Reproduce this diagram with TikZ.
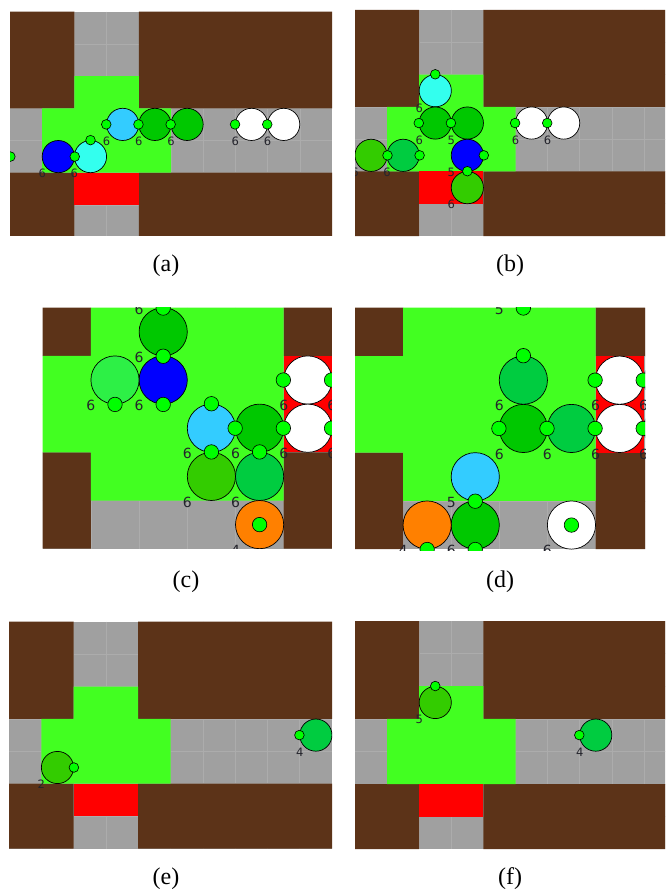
\documentclass[tikz,border=0pt]{standalone}
\usepackage{fontspec}
\setmainfont{Liberation Serif}
\newfontfamily\numfont{DejaVu Sans}
\usepackage{tikz}

\definecolor{wall}{RGB}{92,51,24}
\definecolor{floor}{RGB}{160,160,160}
\definecolor{seam}{RGB}{172,172,172}
\definecolor{zone}{RGB}{66,255,33}
\definecolor{exit}{RGB}{255,0,0}
\definecolor{heading}{RGB}{0,255,0}
\definecolor{numgray}{RGB}{36,36,44}
\definecolor{agblue}{RGB}{0,0,255}
\definecolor{agcyan}{RGB}{51,255,238}
\definecolor{agsky}{RGB}{51,204,255}
\definecolor{agdark}{RGB}{0,200,0}
\definecolor{agolive}{RGB}{51,204,0}
\definecolor{agmint}{RGB}{0,204,64}
\definecolor{aglime}{RGB}{45,240,70}
\definecolor{agorange}{RGB}{255,128,0}

% one cell of the map, and the size of the queue numbers
\newcommand{\cellsize}{32.2pt}
\newcommand{\numsize}{11.5}

\tikzset{
  agent/.style={circle, draw=black, line width=0.7pt, inner sep=0pt, minimum size=\cellsize},
  hdot/.style={circle, draw=black, line width=0.6pt, fill=heading, inner sep=0pt, minimum size=0.3*\cellsize},
  num/.style={font=\numfont\fontsize{\numsize}{\numsize}\selectfont, text=numgray, inner sep=0pt},
  subcap/.style={font=\fontsize{24}{28}\selectfont, inner sep=0pt},
  seams/.style={draw=seam, line width=0.6pt},
}

% 10 x 7 cells round the crossing
\newcommand{\crossing}{%
  \fill[floor] (0,0) rectangle (10,7);
  \foreach \i in {1,...,9} \draw[seams] (\i,0) -- (\i,7);
  \foreach \j in {1,...,6} \draw[seams] (0,\j) -- (10,\j);
  \fill[wall] (0,0) rectangle (2,3) (4,0) rectangle (10,3)
              (0,5) rectangle (2,7) (4,5) rectangle (10,7);
  \fill[zone] (2,2) rectangle (4,3) (1,3) rectangle (5,5);
  \fill[exit] (2,5) rectangle (4,6);
}
% close-up, 7 x 5 cells
\newcommand{\closeup}{%
  \fill[floor] (0,0) rectangle (7,5);
  \foreach \i in {1,...,6} \draw[seams] (\i,0) -- (\i,5);
  \foreach \j in {1,...,4} \draw[seams] (0,\j) -- (7,\j);
  \fill[wall] (0,0) rectangle (1,1) (0,3) rectangle (1,5)
              (5,0) rectangle (7,1) (5,3) rectangle (7,5);
  \fill[zone] (1,0) rectangle (5,4) (0,1) rectangle (1,3);
  \fill[exit] (5,1) rectangle (6,3);
}

\begin{document}
\begin{tikzpicture}[x=1pt,y=-1pt]
\useasboundingbox (0,0) rectangle (665,893);
\fill[white] (0,0) rectangle (665,893);
%%
\begin{scope}[shift={(10,11.7)},x=32.2pt,y=-32.2pt]
  \clip (0,0) rectangle (10,6.95);
  \crossing
  \foreach \ag/\x/\y/\col in {a0/-0.5/4.5/agdark, a1/1.5/4.5/agblue, a2/2.5/4.5/agcyan,
      a3/3.5/3.5/agsky, a4/4.5/3.5/agdark, a5/5.5/3.5/agdark, a6/7.5/3.5/white, a7/8.5/3.5/white}
    \node (\ag) at (\x,\y) [agent, fill=\col] {};
  \node at (a0.east) [hdot] {};
  \foreach \ag/\hd/\lab in {a1/east/6, a2/north/6, a3/west/6,
      a4/west/6, a5/west/6, a6/west/6, a7/west/6} {
    \node at (\ag.\hd) [hdot] {};
    \node at ([shift={(-0.5,0.53)}]\ag.center) [num] {\lab};
  }
\end{scope}
\node (capa) at (166,266) [subcap] {(a)};
%%
\begin{scope}[shift={(355,10)},x=32.1pt,y=-32.3pt]
  \clip (0,0) rectangle (9.66,7);
  \crossing
  \foreach \ag/\x/\y/\col in {b1/2.5/2.5/agcyan, b2/2.5/3.5/agdark, b3/3.5/3.5/agdark,
      b4/5.5/3.5/white, b5/6.5/3.5/white, b6/0.5/4.5/agolive, b7/1.5/4.5/agmint,
      b8/3.5/4.5/agblue, b9/3.5/5.5/agolive}
    \node (\ag) at (\x,\y) [agent, fill=\col] {};
  \foreach \ag/\hd/\lab in {b1/north/6, b2/west/6, b3/west/5, b4/west/6, b5/west/6,
      b6/east/6, b7/east/6, b8/east/5, b9/north/6} {
    \node at (\ag.\hd) [hdot] {};
    \node at ([shift={(-0.5,0.53)}]\ag.center) [num] {\lab};
  }
\end{scope}
\node (capb) at (510,266) [subcap] {(b)};
%%
\begin{scope}[shift={(42.7,307.7)},x=48.2pt,y=-48.2pt]
  \def\cellsize{48.2pt}\def\numsize{14}
  \clip (0,0) rectangle (6,5);
  \closeup
  \foreach \ag/\x/\y/\col in {c0/2.5/-0.5/agdark, c1/2.5/0.5/agdark, c2/2.5/1.5/agblue,
      c3/1.5/1.5/aglime, c4/3.5/2.5/agsky, c5/4.5/2.5/agdark, c6/5.5/1.5/white,
      c7/5.5/2.5/white, c8/6.5/1.5/white, c9/6.5/2.5/white, c10/3.5/3.5/agolive,
      c11/4.5/3.5/agmint, c12/4.5/4.5/agorange}
    \node (\ag) at (\x,\y) [agent, fill=\col] {};
  \foreach \ag/\hd/\lab in {c0/south/6, c1/south/6, c2/south/6, c3/south/6, c4/north/6,
      c5/west/6, c6/west/6, c7/west/6, c8/west/6, c9/west/6, c10/north/6,
      c11/north/6, c12/center/4} {
    \node at (\ag.\hd) [hdot] {};
    \node at ([shift={(-0.5,0.53)}]\ag.center) [num] {\lab};
  }
\end{scope}
\node (capc) at (186,582) [subcap] {(c)};
%%
\begin{scope}[shift={(355,307.7)},x=48.1pt,y=-48.3pt]
  \def\cellsize{48.2pt}\def\numsize{14}
  \clip (0,0) rectangle (6.03,5.02);
  \closeup
  \foreach \ag/\x/\y/\col in {d0/3.5/-0.5/agdark, d1/3.5/1.5/agmint, d2/3.5/2.5/agdark,
      d3/4.5/2.5/agmint, d4/5.5/1.5/white, d5/5.5/2.5/white, d6/6.5/1.5/white,
      d7/6.5/2.5/white, d8/2.5/3.5/agsky, d9/2.5/4.5/agdark, d10/1.5/4.5/agorange,
      d11/4.5/4.5/white}
    \node (\ag) at (\x,\y) [agent, fill=\col] {};
  \foreach \ag/\hd/\lab in {d0/south/5, d1/north/6, d2/west/6, d3/west/6, d4/west/6,
      d5/west/6, d6/west/6, d7/west/6, d8/south/5, d9/south/6, d10/south/4,
      d11/center/6} {
    \node at (\ag.\hd) [hdot] {};
    \node at ([shift={(-0.5,0.53)}]\ag.center) [num] {\lab};
  }
\end{scope}
\node (capd) at (500,582) [subcap] {(d)};
%%
\begin{scope}[shift={(9,621.7)},x=32.3pt,y=-32.4pt]
  \clip (0,0) rectangle (10,7);
  \crossing
  \foreach \ag/\x/\y/\col in {e1/1.5/4.5/agolive, e2/9.5/3.5/agmint}
    \node (\ag) at (\x,\y) [agent, fill=\col] {};
  \foreach \ag/\hd/\lab in {e1/east/2, e2/west/4} {
    \node at (\ag.\hd) [hdot] {};
    \node at ([shift={(-0.5,0.53)}]\ag.center) [num] {\lab};
  }
\end{scope}
\node (cape) at (166,879) [subcap] {(e)};
%%
\begin{scope}[shift={(355,621)},x=32.1pt,y=-32.6pt]
  \clip (0,0) rectangle (9.66,7);
  \crossing
  \foreach \ag/\x/\y/\col in {f1/2.5/2.5/agolive, f2/7.5/3.5/agmint}
    \node (\ag) at (\x,\y) [agent, fill=\col] {};
  \foreach \ag/\hd/\lab in {f1/north/5, f2/west/4} {
    \node at (\ag.\hd) [hdot] {};
    \node at ([shift={(-0.5,0.53)}]\ag.center) [num] {\lab};
  }
\end{scope}
\node (capf) at (510,879) [subcap] {(f)};
%
\end{tikzpicture}
\end{document}
